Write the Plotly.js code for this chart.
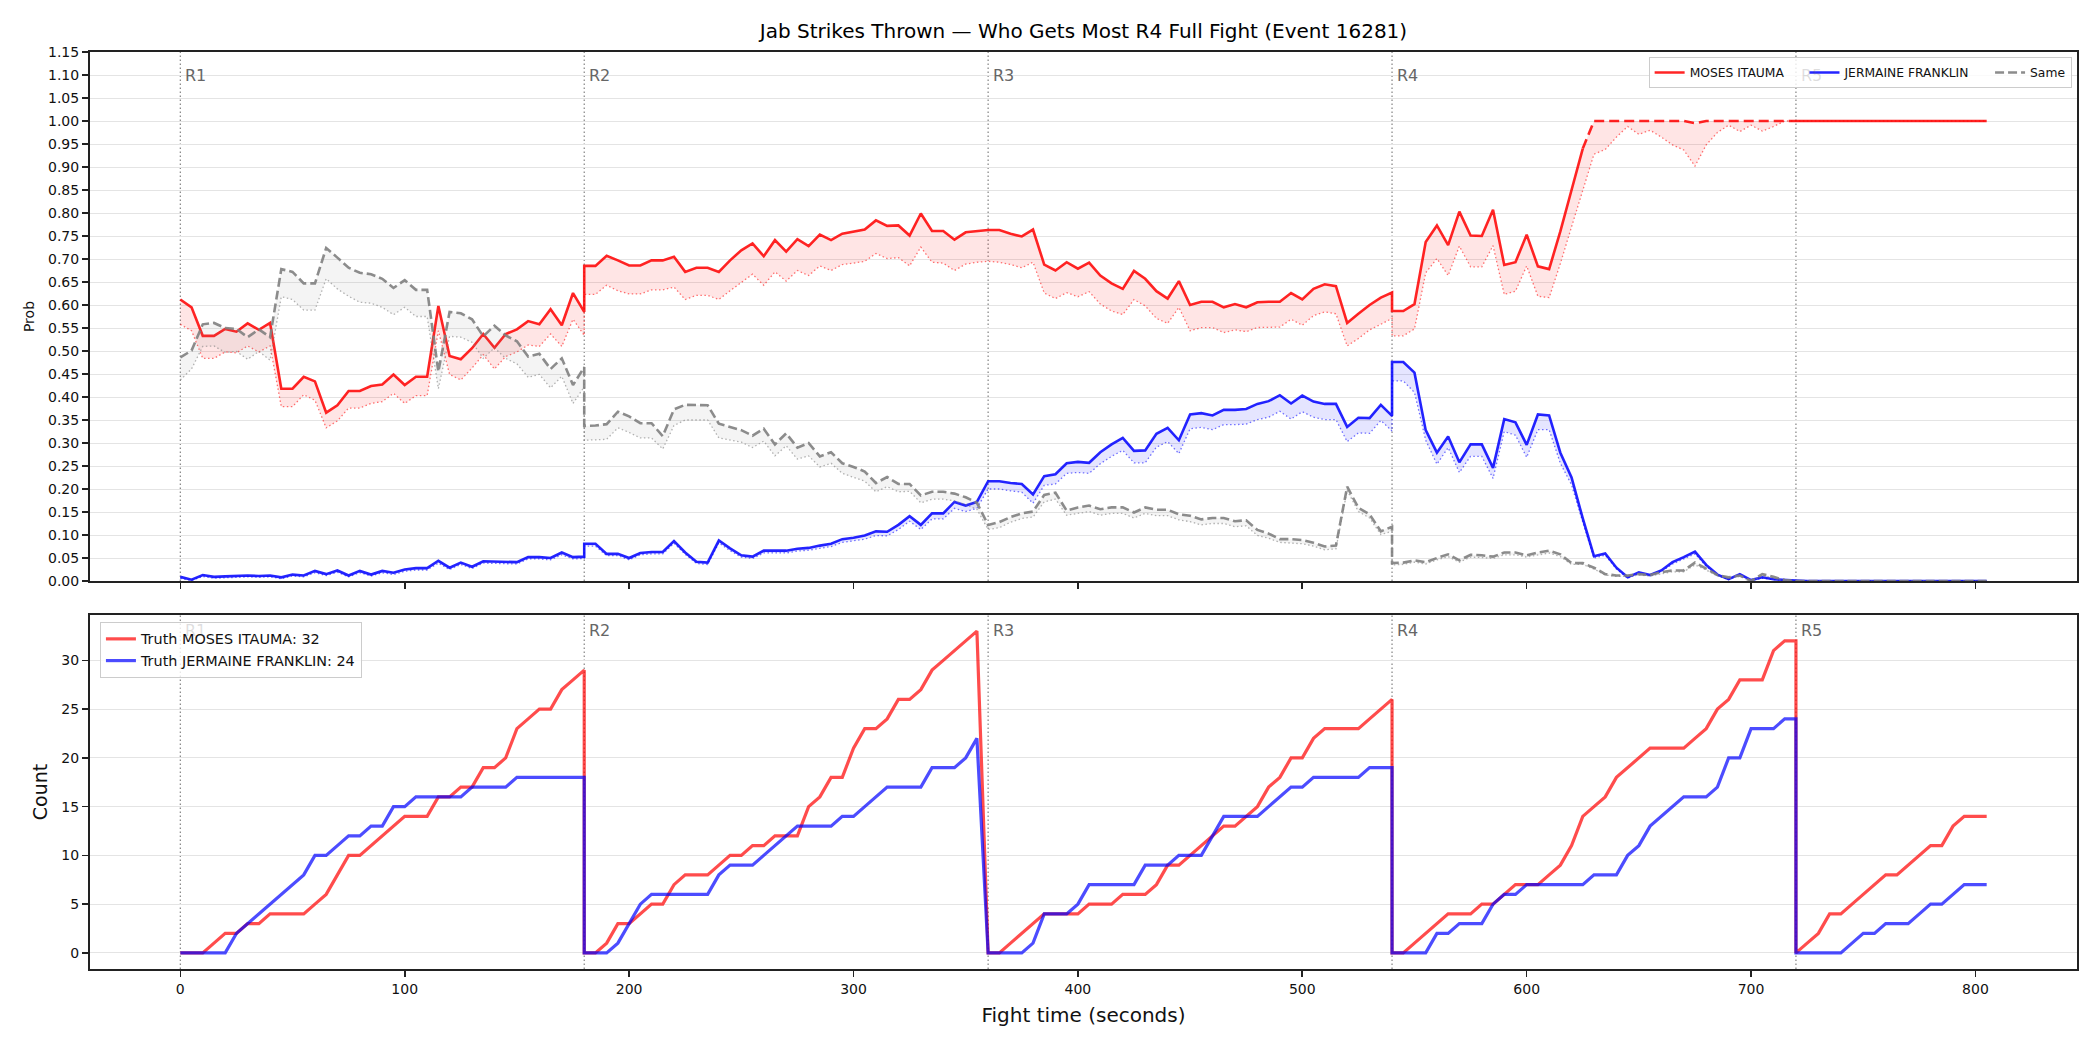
<!DOCTYPE html>
<html>
<head>
<meta charset="utf-8">
<script src="https://cdn.plot.ly/plotly-3.0.1.min.js"></script>
<style>
  html, body { margin: 0; padding: 0; background: #ffffff; }
  #chart { width: 2100px; height: 1050px; }
</style>
</head>
<body>
<div id="chart"></div>
<script>
// Sample times (s). Rounds 1->2, 3->4 and 4->5 repeat the boundary second.
const fightTime = [
  0,5,10,15,20,25,30,35,40,45,50,55,60,65,70,75,80,85,90,95,100,105,110,115,120,125,130,135,140,145,150,155,160,165,170,175,180,
  180,185,190,195,200,205,210,215,220,225,230,235,240,245,250,255,260,265,270,275,280,285,290,295,300,305,310,315,320,325,330,335,340,345,350,355,
  360,365,370,375,380,385,390,395,400,405,410,415,420,425,430,435,440,445,450,455,460,465,470,475,480,485,490,495,500,505,510,515,520,525,530,535,540,
  540,545,550,555,560,565,570,575,580,585,590,595,600,605,610,615,620,625,630,635,640,645,650,655,660,665,670,675,680,685,690,695,700,705,710,715,720,
  720,725,730,735,740,745,750,755,760,765,770,775,780,785,790,795,800,805
];

// Market probability: MOSES ITAUMA (line) and its lower band
const itaumaProb = [
  0.612,0.595,0.533,0.533,0.548,0.542,0.560,0.546,0.561,0.418,0.418,0.444,0.434,0.366,0.382,0.413,0.413,0.424,0.427,0.449,0.426,0.444,0.444,0.598,0.489,0.482,0.506,0.537,0.507,0.537,0.547,0.565,0.558,0.591,0.556,0.626,0.585,
  0.685,0.685,0.707,0.697,0.686,0.686,0.697,0.697,0.705,0.672,0.681,0.681,0.672,0.697,0.719,0.734,0.706,0.741,0.716,0.743,0.728,0.753,0.741,0.755,0.759,0.764,0.784,0.772,0.773,0.751,0.799,0.761,0.761,0.742,0.758,0.761,
  0.763,0.763,0.755,0.749,0.764,0.688,0.675,0.693,0.679,0.692,0.664,0.647,0.635,0.674,0.657,0.630,0.614,0.652,0.600,0.607,0.607,0.595,0.602,0.595,0.606,0.607,0.607,0.626,0.612,0.635,0.645,0.641,0.561,0.581,0.600,0.616,0.627,
  0.587,0.587,0.602,0.737,0.773,0.730,0.803,0.751,0.750,0.807,0.687,0.693,0.753,0.684,0.678,0.760,0.850,0.940,1.000,1.000,1.000,1.000,1.000,1.000,1.000,1.000,1.000,0.995,1.000,1.000,1.000,1.000,1.000,1.000,1.000,1.000,1.000,
  1.000,1.000,1.000,1.000,1.000,1.000,1.000,1.000,1.000,1.000,1.000,1.000,1.000,1.000,1.000,1.000,1.000,1.000
];
const itaumaLow = [
  0.558,0.544,0.484,0.484,0.498,0.496,0.511,0.498,0.511,0.379,0.379,0.405,0.393,0.333,0.348,0.376,0.376,0.386,0.390,0.408,0.386,0.403,0.403,0.544,0.449,0.437,0.463,0.492,0.461,0.488,0.498,0.513,0.510,0.537,0.510,0.569,0.534,
  0.623,0.623,0.643,0.631,0.624,0.624,0.633,0.633,0.639,0.612,0.621,0.621,0.612,0.631,0.650,0.667,0.643,0.672,0.652,0.675,0.664,0.685,0.675,0.688,0.691,0.695,0.712,0.701,0.703,0.685,0.726,0.693,0.691,0.675,0.689,0.693,
  0.695,0.693,0.688,0.681,0.693,0.626,0.614,0.627,0.618,0.629,0.602,0.587,0.579,0.612,0.598,0.571,0.560,0.595,0.544,0.551,0.551,0.540,0.546,0.542,0.551,0.552,0.552,0.569,0.556,0.577,0.585,0.581,0.511,0.527,0.546,0.558,0.571,
  0.533,0.533,0.548,0.670,0.701,0.664,0.728,0.683,0.683,0.729,0.623,0.630,0.685,0.619,0.616,0.690,0.770,0.850,0.928,0.938,0.965,0.988,0.971,0.980,0.965,0.948,0.937,0.902,0.948,0.975,0.991,0.977,0.991,0.978,0.988,1.000,1.000,
  1.000,1.000,1.000,1.000,1.000,1.000,1.000,1.000,1.000,1.000,1.000,1.000,1.000,1.000,1.000,1.000,1.000,1.000
];

// Market probability: JERMAINE FRANKLIN and its lower band
const franklinProb = [
  0.009,0.003,0.013,0.009,0.010,0.011,0.012,0.011,0.012,0.008,0.014,0.012,0.022,0.015,0.023,0.012,0.022,0.014,0.022,0.018,0.025,0.028,0.028,0.044,0.029,0.040,0.031,0.043,0.042,0.041,0.041,0.052,0.052,0.050,0.062,0.052,0.053,
  0.081,0.081,0.059,0.059,0.050,0.061,0.063,0.063,0.087,0.062,0.042,0.040,0.088,0.071,0.056,0.053,0.066,0.066,0.066,0.070,0.072,0.077,0.081,0.091,0.094,0.099,0.108,0.107,0.122,0.141,0.122,0.147,0.147,0.172,0.164,0.172,
  0.217,0.217,0.213,0.211,0.188,0.228,0.232,0.256,0.259,0.257,0.280,0.297,0.311,0.283,0.284,0.320,0.333,0.306,0.362,0.365,0.360,0.372,0.372,0.374,0.385,0.391,0.404,0.386,0.403,0.390,0.385,0.385,0.335,0.355,0.354,0.383,0.359,
  0.476,0.476,0.453,0.328,0.279,0.314,0.258,0.297,0.297,0.246,0.352,0.345,0.296,0.362,0.360,0.279,0.225,0.136,0.054,0.060,0.029,0.008,0.019,0.013,0.023,0.041,0.052,0.064,0.035,0.014,0.004,0.015,0.002,0.008,0.004,0.002,0.001,
  0.001,0.000,0.000,0.000,0.000,0.000,0.000,0.000,0.000,0.000,0.000,0.000,0.000,0.000,0.000,0.000,0.000,0.000
];
const franklinLow = [
  0.006,0.001,0.010,0.006,0.007,0.008,0.009,0.008,0.009,0.005,0.011,0.009,0.018,0.012,0.019,0.009,0.018,0.011,0.018,0.014,0.021,0.024,0.024,0.039,0.025,0.036,0.027,0.039,0.038,0.037,0.037,0.048,0.048,0.046,0.057,0.048,0.049,
  0.076,0.076,0.055,0.055,0.046,0.057,0.059,0.059,0.082,0.058,0.038,0.036,0.083,0.066,0.052,0.049,0.061,0.061,0.061,0.065,0.067,0.071,0.075,0.084,0.087,0.091,0.099,0.098,0.112,0.130,0.112,0.135,0.135,0.158,0.151,0.158,
  0.200,0.200,0.196,0.193,0.169,0.208,0.211,0.234,0.236,0.234,0.255,0.271,0.284,0.257,0.257,0.291,0.303,0.277,0.331,0.334,0.329,0.340,0.340,0.341,0.351,0.356,0.369,0.352,0.368,0.356,0.351,0.351,0.303,0.322,0.321,0.349,0.326,
  0.435,0.435,0.410,0.306,0.254,0.290,0.236,0.271,0.271,0.223,0.325,0.317,0.269,0.329,0.329,0.256,0.209,0.128,0.050,0.056,0.026,0.006,0.016,0.011,0.020,0.037,0.048,0.059,0.032,0.012,0.003,0.013,0.001,0.006,0.003,0.001,0.000,
  0.000,0.000,0.000,0.000,0.000,0.000,0.000,0.000,0.000,0.000,0.000,0.000,0.000,0.000,0.000,0.000,0.000,0.000
];

// Market probability: Same (tie) and its lower band
const sameProb = [
  0.486,0.501,0.558,0.561,0.550,0.548,0.530,0.547,0.530,0.678,0.672,0.647,0.647,0.724,0.703,0.681,0.670,0.667,0.657,0.637,0.654,0.633,0.633,0.455,0.585,0.582,0.569,0.532,0.555,0.534,0.521,0.488,0.494,0.461,0.484,0.426,0.465,
  0.337,0.338,0.341,0.368,0.358,0.343,0.343,0.315,0.373,0.383,0.383,0.382,0.342,0.335,0.328,0.316,0.331,0.297,0.321,0.290,0.300,0.271,0.280,0.256,0.248,0.238,0.213,0.226,0.211,0.211,0.186,0.194,0.194,0.190,0.182,0.170,
  0.122,0.128,0.139,0.147,0.151,0.187,0.192,0.153,0.160,0.164,0.156,0.160,0.160,0.149,0.160,0.155,0.155,0.145,0.142,0.134,0.137,0.137,0.130,0.132,0.111,0.103,0.091,0.091,0.089,0.083,0.075,0.077,0.205,0.159,0.145,0.108,0.118,
  0.039,0.040,0.045,0.041,0.050,0.058,0.045,0.057,0.056,0.053,0.062,0.062,0.056,0.062,0.066,0.058,0.039,0.039,0.029,0.015,0.012,0.012,0.015,0.013,0.019,0.023,0.023,0.040,0.027,0.013,0.008,0.012,0.000,0.015,0.009,0.002,0.000,
  0.000,0.000,0.000,0.000,0.000,0.000,0.000,0.000,0.000,0.000,0.000,0.000,0.000,0.000,0.000,0.000,0.000,0.000
];
const sameLow = [
  0.437,0.461,0.510,0.511,0.497,0.499,0.482,0.499,0.480,0.618,0.612,0.589,0.589,0.657,0.635,0.619,0.606,0.604,0.595,0.579,0.595,0.575,0.575,0.418,0.532,0.530,0.519,0.484,0.507,0.484,0.472,0.443,0.449,0.420,0.445,0.386,0.422,
  0.306,0.307,0.308,0.333,0.323,0.311,0.311,0.287,0.338,0.350,0.350,0.350,0.311,0.306,0.302,0.290,0.304,0.272,0.294,0.265,0.272,0.248,0.256,0.234,0.226,0.217,0.194,0.205,0.194,0.195,0.170,0.178,0.178,0.174,0.166,0.156,
  0.112,0.116,0.128,0.136,0.139,0.172,0.178,0.143,0.147,0.151,0.143,0.147,0.147,0.137,0.147,0.142,0.142,0.133,0.129,0.122,0.125,0.125,0.118,0.120,0.099,0.093,0.084,0.083,0.081,0.076,0.068,0.070,0.197,0.151,0.137,0.101,0.108,
  0.035,0.036,0.041,0.037,0.046,0.053,0.041,0.052,0.051,0.049,0.057,0.057,0.052,0.057,0.061,0.053,0.036,0.036,0.026,0.013,0.010,0.010,0.013,0.011,0.016,0.020,0.020,0.035,0.024,0.011,0.006,0.010,0.000,0.012,0.007,0.001,0.000,
  0.000,0.000,0.000,0.000,0.000,0.000,0.000,0.000,0.000,0.000,0.000,0.000,0.000,0.000,0.000,0.000,0.000,0.000
];

// Cumulative jab counts within each round
const itaumaCount = [
  0,0,0,1,2,2,3,3,4,4,4,4,5,6,8,10,10,11,12,13,14,14,14,16,16,17,17,19,19,20,23,24,25,25,27,28,29,
  0,0,1,3,3,4,5,5,7,8,8,8,9,10,10,11,11,12,12,12,15,16,18,18,21,23,23,24,26,26,27,29,30,31,32,33,
  0,0,1,2,3,4,4,4,4,5,5,5,6,6,6,7,9,9,10,11,12,13,13,14,15,17,18,20,20,22,23,23,23,23,24,25,26,
  0,0,1,2,3,4,4,4,5,5,6,7,7,7,8,9,11,14,15,16,18,19,20,21,21,21,21,22,23,25,26,28,28,28,31,32,32,
  0,1,2,4,4,5,6,7,8,8,9,10,11,11,13,14,14,14
];
const franklinCount = [
  0,0,0,0,0,2,3,4,5,6,7,8,10,10,11,12,12,13,13,15,15,16,16,16,16,16,17,17,17,17,18,18,18,18,18,18,18,
  0,0,0,1,3,5,6,6,6,6,6,6,8,9,9,9,10,11,12,13,13,13,13,14,14,15,16,17,17,17,17,19,19,19,20,22,
  0,0,0,0,1,4,4,4,5,7,7,7,7,7,9,9,9,10,10,10,12,14,14,14,14,15,16,17,17,18,18,18,18,18,19,19,19,
  0,0,0,0,2,2,3,3,3,5,6,6,7,7,7,7,7,7,8,8,8,10,11,13,14,15,16,16,16,17,20,20,23,23,23,24,24,
  0,0,0,0,0,1,2,2,3,3,3,4,5,5,6,7,7,7
];

const roundStarts = [0, 180, 360, 540, 720];
const roundNames = ['R1', 'R2', 'R3', 'R4', 'R5'];
const xTicks = [0, 100, 200, 300, 400, 500, 600, 700, 800];
const nameItauma = 'MOSES ITAUMA';
const nameFranklin = 'JERMAINE FRANKLIN';
const nameSame = 'Same';

// R4 totals shown in the lower legend are read from the end of round 4
const r4End = fightTime.indexOf(720);
// Itauma's line is dashed while the market sits at its ceiling in round 4
const settledFrom = fightTime.indexOf(625);
const round5From = fightTime.lastIndexOf(720);

const FONT = 'DejaVu Sans, Liberation Sans, Arial, sans-serif';
const RED = 'rgba(255,0,0,0.86)', BLUE = 'rgba(0,0,255,0.86)', GREY = 'rgba(128,128,128,0.9)';
const GAP = '\u00a0\u00a0\u00a0\u00a0';   // extra room between horizontal legend entries

function band(y, color) {
  return { x: fightTime, y: y, type: 'scatter', mode: 'lines', xaxis: 'x', yaxis: 'y',
    line: { color: color, width: 1.3, dash: '1.5px,2.5px' }, showlegend: false, hoverinfo: 'skip' };
}
function fillTo(y, fillcolor) {
  return { x: fightTime, y: y, type: 'scatter', mode: 'lines', xaxis: 'x', yaxis: 'y',
    line: { width: 0 }, fill: 'tonexty', fillcolor: fillcolor, showlegend: false, hoverinfo: 'skip' };
}
function part(y, a, b, extra) {
  return Object.assign({ x: fightTime.slice(a, b), y: y.slice(a, b), type: 'scatter', mode: 'lines',
    xaxis: 'x', yaxis: 'y', hoverinfo: 'skip' }, extra);
}

const traces = [
  band(itaumaLow, 'rgba(255,0,0,0.55)'),
  fillTo(itaumaProb, 'rgba(255,0,0,0.10)'),
  part(itaumaProb, 0, settledFrom + 1, { name: nameItauma + GAP, legend: 'legend', line: { color: RED, width: 2.6 } }),
  part(itaumaProb, settledFrom, round5From + 1, { showlegend: false, line: { color: RED, width: 2.6, dash: '10px,5px' } }),
  part(itaumaProb, round5From, fightTime.length, { showlegend: false, line: { color: RED, width: 2.6 } }),

  band(franklinLow, 'rgba(0,0,255,0.55)'),
  fillTo(franklinProb, 'rgba(0,0,255,0.10)'),
  { x: fightTime, y: franklinProb, type: 'scatter', mode: 'lines', xaxis: 'x', yaxis: 'y',
    name: nameFranklin + GAP, legend: 'legend', line: { color: BLUE, width: 2.6 } },

  band(sameLow, 'rgba(128,128,128,0.6)'),
  fillTo(sameProb, 'rgba(128,128,128,0.09)'),
  { x: fightTime, y: sameProb, type: 'scatter', mode: 'lines', xaxis: 'x', yaxis: 'y',
    name: nameSame, legend: 'legend', line: { color: GREY, width: 2.6, dash: '9px,4px' } },

  { x: fightTime, y: itaumaCount, type: 'scatter', mode: 'lines', xaxis: 'x2', yaxis: 'y2',
    name: 'Truth ' + nameItauma + ': ' + itaumaCount[r4End], legend: 'legend2',
    line: { color: 'rgba(255,0,0,0.7)', width: 3.2 } },
  { x: fightTime, y: franklinCount, type: 'scatter', mode: 'lines', xaxis: 'x2', yaxis: 'y2',
    name: 'Truth ' + nameFranklin + ': ' + franklinCount[r4End], legend: 'legend2',
    line: { color: 'rgba(0,0,255,0.7)', width: 3.2 } }
];

// Round boundaries and labels on both panels
const shapes = [];
const annotations = [];
roundStarts.forEach((t, i) => {
  [['x', 'y domain'], ['x2', 'y2 domain']].forEach(([xr, yr], p) => {
    shapes.push({ type: 'line', xref: xr, yref: yr, x0: t, x1: t, y0: 0, y1: 1, layer: 'below',
      line: { color: 'rgba(90,90,90,0.75)', width: 1.2, dash: '1.5px,2.5px' } });
    // labels sitting under a legend box show through faintly
    const hidden = (p === 0 && i === 4) || (p === 1 && i === 0);
    annotations.push({ xref: xr, yref: yr, x: t, y: 0.955, xanchor: 'left', yanchor: 'middle', xshift: 3,
      text: roundNames[i], showarrow: false,
      font: { family: FONT, size: 16, color: hidden ? 'rgba(102,102,102,0.22)' : '#666666' } });
  });
});

const axisCommon = {
  showline: true, linecolor: '#222222', linewidth: 2, mirror: true,
  ticks: 'outside', ticklen: 6, tickwidth: 1.6, tickcolor: '#222222',
  zeroline: false, automargin: false,
  tickfont: { family: FONT, size: 14, color: '#111111' }
};

const layout = {
  width: 2100, height: 1050,
  margin: { l: 90, r: 23, t: 52, b: 81 },
  paper_bgcolor: '#ffffff', plot_bgcolor: '#ffffff',
  font: { family: FONT, size: 14, color: '#111111' },
  title: { text: 'Jab Strikes Thrown — Who Gets Most R4 Full Fight (Event 16281)',
    font: { family: FONT, size: 20, color: '#000000' },
    xref: 'paper', x: 0.5, xanchor: 'center', yref: 'container', y: 1 - 31 / 1050, yanchor: 'middle' },
  xaxis: Object.assign({}, axisCommon, { domain: [0, 1], anchor: 'y', range: [-40.25, 845.25],
    tickvals: xTicks, showticklabels: false, showgrid: false }),
  yaxis: Object.assign({}, axisCommon, { domain: [0.4231, 1], anchor: 'x', range: [0, 1.15],
    tick0: 0, dtick: 0.05, tickformat: '.2f', showgrid: true, gridcolor: '#e4e4e4', gridwidth: 1,
    title: { text: 'Prob', font: { family: FONT, size: 14, color: '#111111' }, standoff: 10 } }),
  xaxis2: Object.assign({}, axisCommon, { domain: [0, 1], anchor: 'y2', range: [-40.25, 845.25],
    tickvals: xTicks, showgrid: false,
    title: { text: 'Fight time (seconds)', font: { family: FONT, size: 20, color: '#111111' }, standoff: 12 } }),
  yaxis2: Object.assign({}, axisCommon, { domain: [0, 0.386], anchor: 'x2', range: [-1.65, 34.65],
    tick0: 0, dtick: 5, showgrid: true, gridcolor: '#e4e4e4', gridwidth: 1,
    title: { text: 'Count', font: { family: FONT, size: 19, color: '#111111' }, standoff: 9 } }),
  legend: { orientation: 'h', x: 0.9973, xanchor: 'right', y: 0.9945, yanchor: 'top',
    bgcolor: 'rgba(255,255,255,0.8)', bordercolor: '#cccccc', borderwidth: 1,
    font: { family: FONT, size: 12.3, color: '#111111' }, traceorder: 'normal' },
  legend2: { orientation: 'v', x: 0.005, xanchor: 'left', y: 0.3784, yanchor: 'top',
    bgcolor: 'rgba(255,255,255,0.8)', bordercolor: '#cccccc', borderwidth: 1,
    font: { family: FONT, size: 14.4, color: '#111111' } },
  shapes: shapes,
  annotations: annotations,
  showlegend: true
};

Plotly.newPlot('chart', traces, layout, { staticPlot: true, displayModeBar: false });
</script>
</body>
</html>
